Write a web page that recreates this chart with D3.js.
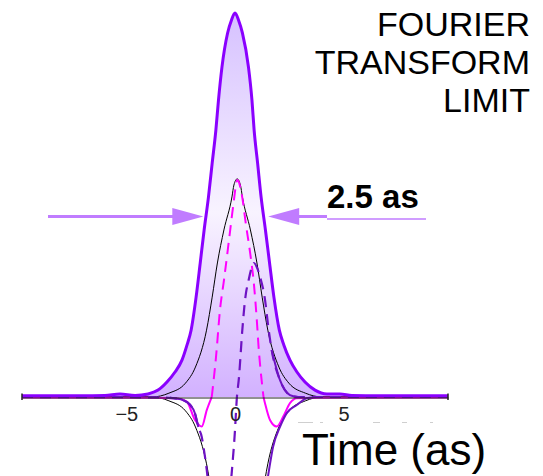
<!DOCTYPE html>
<html>
<head>
<meta charset="utf-8">
<script src="https://cdn.jsdelivr.net/npm/d3@7"></script>
<style>
  html, body { margin: 0; padding: 0; background: #fff; }
  svg { display: block; font-family: "Liberation Sans", Arial, Helvetica, sans-serif; }
</style>
</head>
<body>
<svg id="chart" width="543" height="476"></svg>
<script>
// ---- axis / labels ----
const timeDomain = [-9.8, 9.8];
const tickValues = [-5, 0, 5];
const titleLines = ["FOURIER", "TRANSFORM", "LIMIT"];
const axisTitle = "Time (as)";
const fwhm = 2.5;                       // as, full width at half maximum
const fwhmLabel = "2.5 as";

// ---- transform-limited intensity envelope (normalised) ----
const limitT = [-9.8, -7.13, -5.98, -5.29, -4.6, -4.0, -3.54, -3.13, -2.76, -2.44, -2.21, -2.02, -1.79, -1.6, -1.42, -1.22, -1.05, -0.88, -0.76, -0.6, -0.34, -0.16, 0,
                0.16, 0.34, 0.62, 0.78, 0.88, 1.04, 1.2, 1.4, 1.59, 1.79, 2.04, 2.25, 2.53, 2.85, 3.22, 3.68, 4.23, 4.83, 5.38, 6.67, 9.8];
const limitV = [0.003, 0.003, 0.004, 0.008, 0.004, 0.008, 0.018, 0.039, 0.065, 0.096, 0.135, 0.174, 0.26, 0.349, 0.435, 0.521, 0.609, 0.695, 0.773, 0.859, 0.948, 0.982, 1,
                0.982, 0.948, 0.859, 0.773, 0.695, 0.609, 0.521, 0.435, 0.349, 0.26, 0.174, 0.135, 0.096, 0.065, 0.039, 0.018, 0.008, 0.008, 0.004, 0.003, 0.003];

// ---- field envelope (drawn as +/-) ----
const envT = [-9.8, -3.81, -3.04, -2.28, -1.82, -1.31, -1.05, -0.81, -0.51, -0.14, -0.05, 0.1, 0.25, 0.34, 0.71, 1.01, 1.25, 1.51, 2.02, 2.48, 3.24, 4.01, 9.8];
const envV = [0, 0, 0.01, 0.036, 0.078, 0.174, 0.26, 0.349, 0.435, 0.521, 0.552, 0.568, 0.552, 0.521, 0.435, 0.349, 0.26, 0.174, 0.078, 0.036, 0.01, 0, 0];

// ---- cosine-phase field: central half-cycle and side lobes ----
const cosT = [-1.07, -0.874, -0.69, -0.506, -0.276, -0.078, 0.106, 0.33, 0.506, 0.69, 0.874, 1.012, 1.072, 1.275, 1.312];
const cosV = [0, 0.104, 0.227, 0.305, 0.409, 0.5, 0.565, 0.521, 0.448, 0.378, 0.292, 0.193, 0.141, 0.018, 0];
const cosLeftT = [-9.8, -4.23, -2.68, -2.22, -1.84, -1.53, -1.3, -1.07];
const cosLeftV = [-0.001, -0.002, -0.003, -0.012, -0.06, -0.077, -0.034, 0];
const cosRightT = [1.312, 1.38, 1.61, 1.92, 2.22, 2.53, 2.84, 4.0, 9.8];
const cosRightV = [0, -0.016, -0.06, -0.077, -0.051, -0.016, -0.003, -0.002, -0.001];

// ---- sine-phase field ----
const sinT = [-9.8, -3.5, -2.7, -2.4, -2.07, -1.84, -1.69, -1.53, -1.45, -1.38, -1.3, -1.15, -0.95, -0.7, -0.45, -0.3, -0.152, 0, 0.078, 0.184,
              0.336, 0.428, 0.506, 0.612, 0.736, 0.874, 1.026, 1.15, 1.381, 1.532, 1.689, 2.071, 2.53, 2.9, 9.8];
const sinV = [0, -0.001, -0.004, -0.008, -0.02, -0.043, -0.078, -0.104, -0.13, -0.156, -0.19, -0.27, -0.38, -0.45, -0.38, -0.29, -0.198, -0.086, -0.008, 0.052,
              0.174, 0.234, 0.271, 0.3, 0.331, 0.349, 0.335, 0.313, 0.253, 0.182, 0.122, 0.044, 0.005, 0, 0];
const sinLowLeftT = [-3.0, -2.7, -2.4, -2.07, -1.84, -1.69];
const sinLowLeftV = [-0.001, -0.004, -0.008, -0.02, -0.043, -0.078];
const sinLowRightT = [1.33, 1.52, 1.75, 2.07, 2.38, 2.84, 3.3, 3.6];
const sinLowRightV = [-0.27, -0.206, -0.13, -0.078, -0.042, -0.021, -0.003, -0.001];
const sinTailT = [1.689, 2.071, 2.53, 2.9];
const sinTailV = [0.122, 0.044, 0.005, 0];

// ---- colours ----
const C = {
  limit: "#8a00ff",
  arrow: "#c07cff",
  cos: "#ff00ff",
  sin: "#6e12c4",
  env: "#000"
};

const zip = (ts, vs) => ts.map((t, i) => [t, vs[i]]);

const svg = d3.select("#chart");
const x = d3.scaleLinear().domain(timeDomain).range([22, 448]);
const y = d3.scaleLinear().domain([0, 1]).range([397, 13]);

const line = d3.line().x(d => x(d[0])).y(d => y(d[1])).curve(d3.curveMonotoneX);
const lineNeg = d3.line().x(d => x(d[0])).y(d => y(-d[1])).curve(d3.curveMonotoneX);
const area = d3.area().x(d => x(d[0])).y0(y(0)).y1(d => y(d[1])).curve(d3.curveMonotoneX);

// gradient fill for the intensity envelope
const defs = svg.append("defs");
const grad = defs.append("linearGradient")
  .attr("id", "limitFill").attr("gradientUnits", "userSpaceOnUse")
  .attr("x1", 0).attr("x2", 0).attr("y1", y(1)).attr("y2", y(0));
grad.append("stop").attr("offset", 0).attr("stop-color", "#d6c1ff");
grad.append("stop").attr("offset", 0.52).attr("stop-color", "#f8f3ff");
grad.append("stop").attr("offset", 1).attr("stop-color", "#d2b1ff");

const limit = zip(limitT, limitV);
const env = zip(envT, envV);

svg.append("path").datum(limit).attr("d", area).attr("fill", "url(#limitFill)");

// envelope +/-
svg.append("path").datum(env).attr("d", line)
  .attr("fill", "none").attr("stroke", C.env).attr("stroke-width", 1);
svg.append("path").datum(env).attr("d", lineNeg)
  .attr("fill", "none").attr("stroke", C.env).attr("stroke-width", 1);

// cosine-phase field
svg.append("path").datum(zip(cosT, cosV)).attr("d", line)
  .attr("fill", "none").attr("stroke", C.cos).attr("stroke-width", 2)
  .attr("stroke-dasharray", "11,7");
[zip(cosLeftT, cosLeftV), zip(cosRightT, cosRightV)].forEach(seg => {
  svg.append("path").datum(seg).attr("d", line)
    .attr("fill", "none").attr("stroke", C.cos).attr("stroke-width", 2);
});

// sine-phase field
svg.append("path").datum(zip(sinT, sinV)).attr("d", line)
  .attr("fill", "none").attr("stroke", C.sin).attr("stroke-width", 2.2)
  .attr("stroke-dasharray", "11,7");
[zip(sinLowLeftT, sinLowLeftV), zip(sinLowRightT, sinLowRightV), zip(sinTailT, sinTailV)].forEach(seg => {
  svg.append("path").datum(seg).attr("d", line)
    .attr("fill", "none").attr("stroke", C.sin).attr("stroke-width", 2);
});

// intensity envelope outline
svg.append("path").datum(limit).attr("d", line)
  .attr("fill", "none").attr("stroke", C.limit).attr("stroke-width", 3)
  .attr("stroke-linejoin", "round");

// time axis
const axis = svg.append("g").attr("transform", `translate(0,${y(0) + 0.5})`)
  .call(d3.axisBottom(x).tickValues(tickValues).tickSize(0).tickSizeOuter(0));
axis.select(".domain").attr("stroke", "#222").attr("stroke-width", 1);
axis.selectAll(".tick line").remove();
axis.selectAll(".tick text")
  .attr("y", 23).attr("dy", 0)
  .attr("font-size", 20).attr("fill", "#222")
  .attr("font-family", "'Liberation Sans', Arial, Helvetica, sans-serif");
x.domain().forEach(t => {
  svg.append("line").attr("x1", x(t)).attr("x2", x(t))
    .attr("y1", y(0) - 3.5).attr("y2", y(0) + 3)
    .attr("stroke", "#222").attr("stroke-width", 1.5);
});

// faint guide under the axis title
svg.append("line").attr("x1", 298).attr("x2", 434).attr("y1", 422.5).attr("y2", 422.5)
  .attr("stroke", "#cfcfcf").attr("stroke-width", 1)
  .attr("stroke-dasharray", "15,7,3,50,7,22,5,23,3");

// axis title
svg.append("text").attr("x", 302).attr("y", 465)
  .attr("font-size", 44).attr("fill", "#000").text(axisTitle);

// panel title
titleLines.forEach((s, i) => {
  svg.append("text").attr("x", 530).attr("y", 36 + i * 37.8)
    .attr("text-anchor", "end").attr("font-size", 34).attr("fill", "#000").text(s);
});

// FWHM arrows
const arrowY = y(0.47);
const tipL = x(-fwhm / 2) - 4.5;
const tipR = x(fwhm / 2) + 6;
const headLen = 31, headHalf = 8.5;
svg.append("line").attr("x1", 48).attr("x2", tipL - headLen + 2).attr("y1", arrowY).attr("y2", arrowY)
  .attr("stroke", C.arrow).attr("stroke-width", 3);
svg.append("path")
  .attr("d", `M${tipL},${arrowY}L${tipL - headLen},${arrowY - headHalf}L${tipL - headLen},${arrowY + headHalf}Z`)
  .attr("fill", C.arrow);
svg.append("line").attr("x1", tipR + headLen - 2).attr("x2", 327).attr("y1", arrowY).attr("y2", arrowY)
  .attr("stroke", C.arrow).attr("stroke-width", 3);
svg.append("path")
  .attr("d", `M${tipR},${arrowY}L${tipR + headLen},${arrowY - headHalf}L${tipR + headLen},${arrowY + headHalf}Z`)
  .attr("fill", C.arrow);
svg.append("line").attr("x1", 327).attr("x2", 426).attr("y1", arrowY + 2.5).attr("y2", arrowY + 2.5)
  .attr("stroke", C.arrow).attr("stroke-width", 1.3);

svg.append("text").attr("x", 327).attr("y", 208)
  .attr("font-size", 33).attr("font-weight", "bold").attr("fill", "#000").text(fwhmLabel);
</script>
</body>
</html>
